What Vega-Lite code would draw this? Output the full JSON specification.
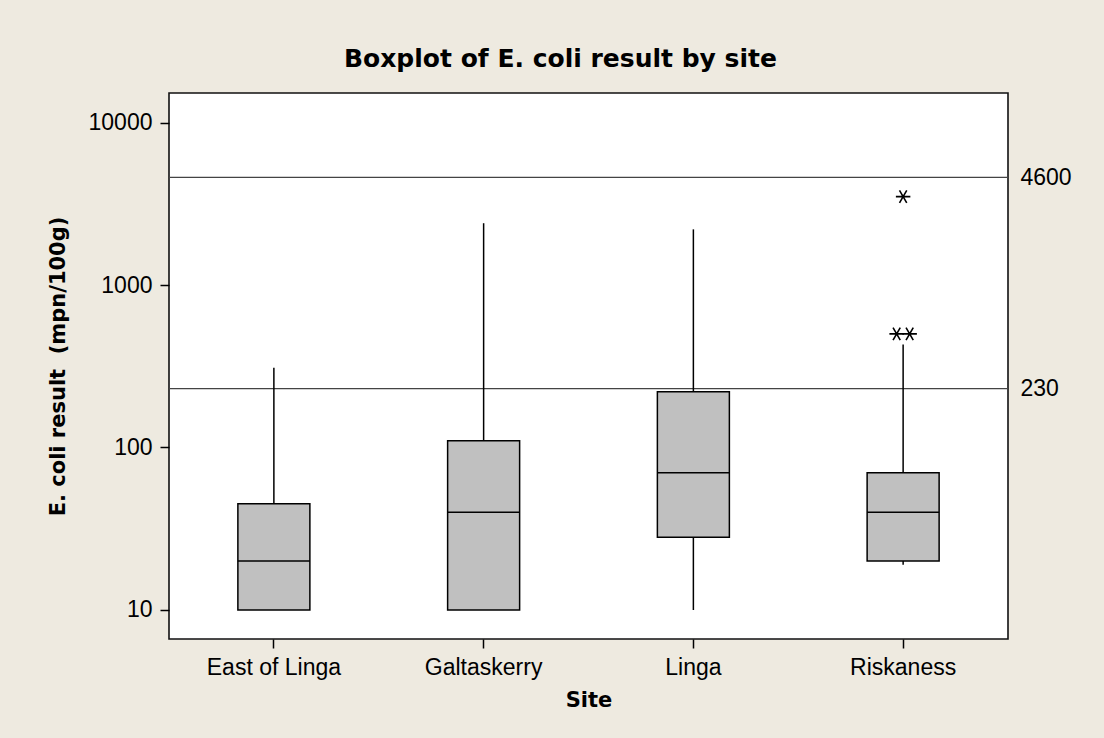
{
  "$schema": "https://vega.github.io/schema/vega-lite/v6.json",
  "width": 839,
  "height": 546,
  "autosize": {"type": "none"},
  "padding": {"left": 169, "top": 93, "right": 96, "bottom": 99},
  "background": "#EEEAE0",
  "title": {
    "text": "Boxplot of E. coli result by site",
    "font": "DejaVu Sans",
    "fontSize": 25,
    "fontWeight": "bold",
    "color": "black",
    "anchor": "middle",
    "frame": "group",
    "baseline": "alphabetic",
    "offset": 1,
    "dx": -28
  },
  "config": {
    "view": {"fill": "white", "stroke": "#111111", "strokeWidth": 1.6},
    "axis": {
      "labelFont": "Liberation Sans",
      "labelFontSize": 23,
      "labelColor": "black",
      "tickColor": "black",
      "tickWidth": 1.5,
      "tickSize": 9,
      "labelPadding": 8,
      "domain": false,
      "grid": false,
      "titleFont": "DejaVu Sans",
      "titleFontSize": 21,
      "titleFontWeight": "bold",
      "titleColor": "black"
    }
  },
  "datasets": {
    "stats": [
      {"site": "East of Linga", "min": 10, "q1": 10, "median": 20, "q3": 45, "max": 310},
      {"site": "Galtaskerry", "min": 10, "q1": 10, "median": 40, "q3": 110, "max": 2400},
      {"site": "Linga", "min": 10, "q1": 28, "median": 70, "q3": 220, "max": 2200},
      {"site": "Riskaness", "min": 19, "q1": 20, "median": 40, "q3": 70, "max": 430}
    ],
    "outliers": [
      {"site": "Riskaness", "value": 500},
      {"site": "Riskaness", "value": 500},
      {"site": "Riskaness", "value": 3500}
    ],
    "limits": [
      {"limit": 230},
      {"limit": 4600}
    ]
  },
  "resolve": {"axis": {"y": "independent"}},
  "layer": [
    {
      "data": {"name": "limits"},
      "mark": {"type": "rule", "stroke": "#444444", "strokeWidth": 1.2},
      "encoding": {
        "y": {
          "field": "limit",
          "type": "quantitative",
          "scale": {"type": "log", "domain": [6.63, 15190], "nice": false, "zero": false},
          "axis": {
            "orient": "right",
            "values": [230, 4600],
            "format": "d",
            "tickSize": 0,
            "labelPadding": 12,
            "title": null
          }
        }
      }
    },
    {
      "data": {"name": "stats"},
      "mark": {"type": "rule", "stroke": "black", "strokeWidth": 1.5},
      "encoding": {
        "x": {
          "field": "site",
          "type": "nominal",
          "scale": {"type": "band", "paddingInner": 0, "paddingOuter": 0},
          "axis": {"title": "Site", "labelAngle": 0, "titlePadding": 10}
        },
        "y": {
          "field": "min",
          "type": "quantitative",
          "axis": {
            "title": "E. coli result \u00a0(mpn/100g)",
            "values": [10, 100, 1000, 10000],
            "format": "d",
            "titlePadding": 20
          }
        },
        "y2": {"field": "q1"}
      }
    },
    {
      "data": {"name": "stats"},
      "mark": {"type": "rule", "stroke": "black", "strokeWidth": 1.5},
      "encoding": {
        "x": {"field": "site", "type": "nominal"},
        "y": {"field": "q3", "type": "quantitative", "axis": null},
        "y2": {"field": "max"}
      }
    },
    {
      "data": {"name": "stats"},
      "mark": {"type": "bar", "size": 72, "fill": "#C0C0C0", "stroke": "black", "strokeWidth": 1.5},
      "encoding": {
        "x": {"field": "site", "type": "nominal"},
        "y": {"field": "q1", "type": "quantitative", "axis": null},
        "y2": {"field": "q3"}
      }
    },
    {
      "data": {"name": "stats"},
      "mark": {"type": "tick", "size": 72, "thickness": 1.5, "color": "black", "opacity": 1},
      "encoding": {
        "x": {"field": "site", "type": "nominal"},
        "y": {"field": "median", "type": "quantitative", "axis": null}
      }
    },
    {
      "data": {"name": "outliers"},
      "transform": [
        {"joinaggregate": [{"op": "count", "as": "n"}], "groupby": ["site", "value"]},
        {"filter": "datum.n == 1"}
      ],
      "mark": {
        "type": "point",
        "shape": "M-1,0L1,0M-0.5,-0.866L0.5,0.866M0.5,-0.866L-0.5,0.866",
        "size": 210,
        "filled": false,
        "stroke": "black",
        "strokeWidth": 1.6,
        "opacity": 1
      },
      "encoding": {
        "x": {"field": "site", "type": "nominal"},
        "y": {"field": "value", "type": "quantitative", "axis": null}
      }
    },
    {
      "data": {"name": "outliers"},
      "transform": [
        {"joinaggregate": [{"op": "count", "as": "n"}], "groupby": ["site", "value"]},
        {"filter": "datum.n > 1"},
        {"window": [{"op": "row_number", "as": "k"}], "groupby": ["site", "value"]}
      ],
      "mark": {
        "type": "point",
        "shape": "M-1,0L1,0M-0.5,-0.866L0.5,0.866M0.5,-0.866L-0.5,0.866",
        "size": 210,
        "filled": false,
        "stroke": "black",
        "strokeWidth": 1.6,
        "opacity": 1
      },
      "encoding": {
        "x": {"field": "site", "type": "nominal"},
        "xOffset": {"field": "k", "type": "quantitative", "scale": {"domain": [1, 2], "range": [98.4, 111.4]}},
        "y": {"field": "value", "type": "quantitative", "axis": null}
      }
    }
  ]
}
